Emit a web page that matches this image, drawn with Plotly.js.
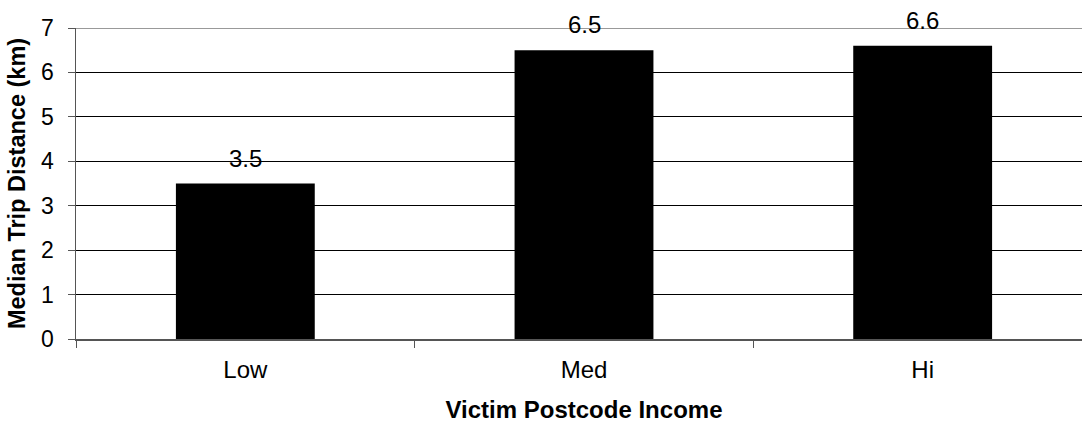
<!DOCTYPE html>
<html><head><meta charset="utf-8">
<script src="https://cdn.plot.ly/plotly-3.0.1.min.js"></script>
<style>html,body{margin:0;padding:0;background:#fff;overflow:hidden}#c{width:1092px;height:423px}</style>
</head><body><div id="c"></div>
<script>
const categories = ["Low", "Med", "Hi"];
const values = [3.5, 6.5, 6.6];
const labels = ["3.5", "6.5", "6.6"];

const font = "Liberation Sans, Arial, sans-serif";
const trace = {
  type: "bar", x: categories, y: values,
  marker: {color: "#000000", line: {color: "#000000", width: 0}},
  width: 0.41, hoverinfo: "skip"
};
const annotations = categories.map((c, i) => ({
  x: c, y: values[i], text: labels[i], showarrow: false,
  yanchor: "bottom", yshift: 10, font: {family: font, size: 24, color: "#000"}
}));
const layout = {
  width: 1092, height: 423,
  margin: {l: 76, r: 0, t: 28, b: 84},
  paper_bgcolor: "#fff", plot_bgcolor: "#fff",
  showlegend: false,
  font: {family: font, size: 24, color: "#000"},
  xaxis: {
    type: "category", tickson: "boundaries", ticks: "outside", ticklen: 7,
    tickcolor: "#555", showgrid: false, showline: true, linecolor: "#555", linewidth: 1.5,
    tickfont: {family: font, size: 24}, ticklabelstandoff: 9,
    title: {text: "<b>Victim Postcode Income</b>", font: {family: font, size: 24}, standoff: 22}
  },
  yaxis: {
    range: [0, 7], dtick: 1, ticks: "outside", ticklen: 7, tickcolor: "#555",
    showline: true, linecolor: "#555", linewidth: 1.5,
    showgrid: true, gridcolor: "#000", gridwidth: 1, zeroline: false,
    tickfont: {family: font, size: 23}, ticklabelstandoff: 9,
    title: {text: "<b>Median Trip Distance (km)</b>", font: {family: font, size: 23.5}, standoff: 9}
  },
  shapes: [{type: "line", xref: "paper", yref: "y", x0: 0, x1: 1, y0: 7, y1: 7,
            line: {color: "#999", width: 2}}],
  annotations: annotations
};
Plotly.newPlot("c", [trace], layout, {displayModeBar: false, staticPlot: true});
</script></body></html>
